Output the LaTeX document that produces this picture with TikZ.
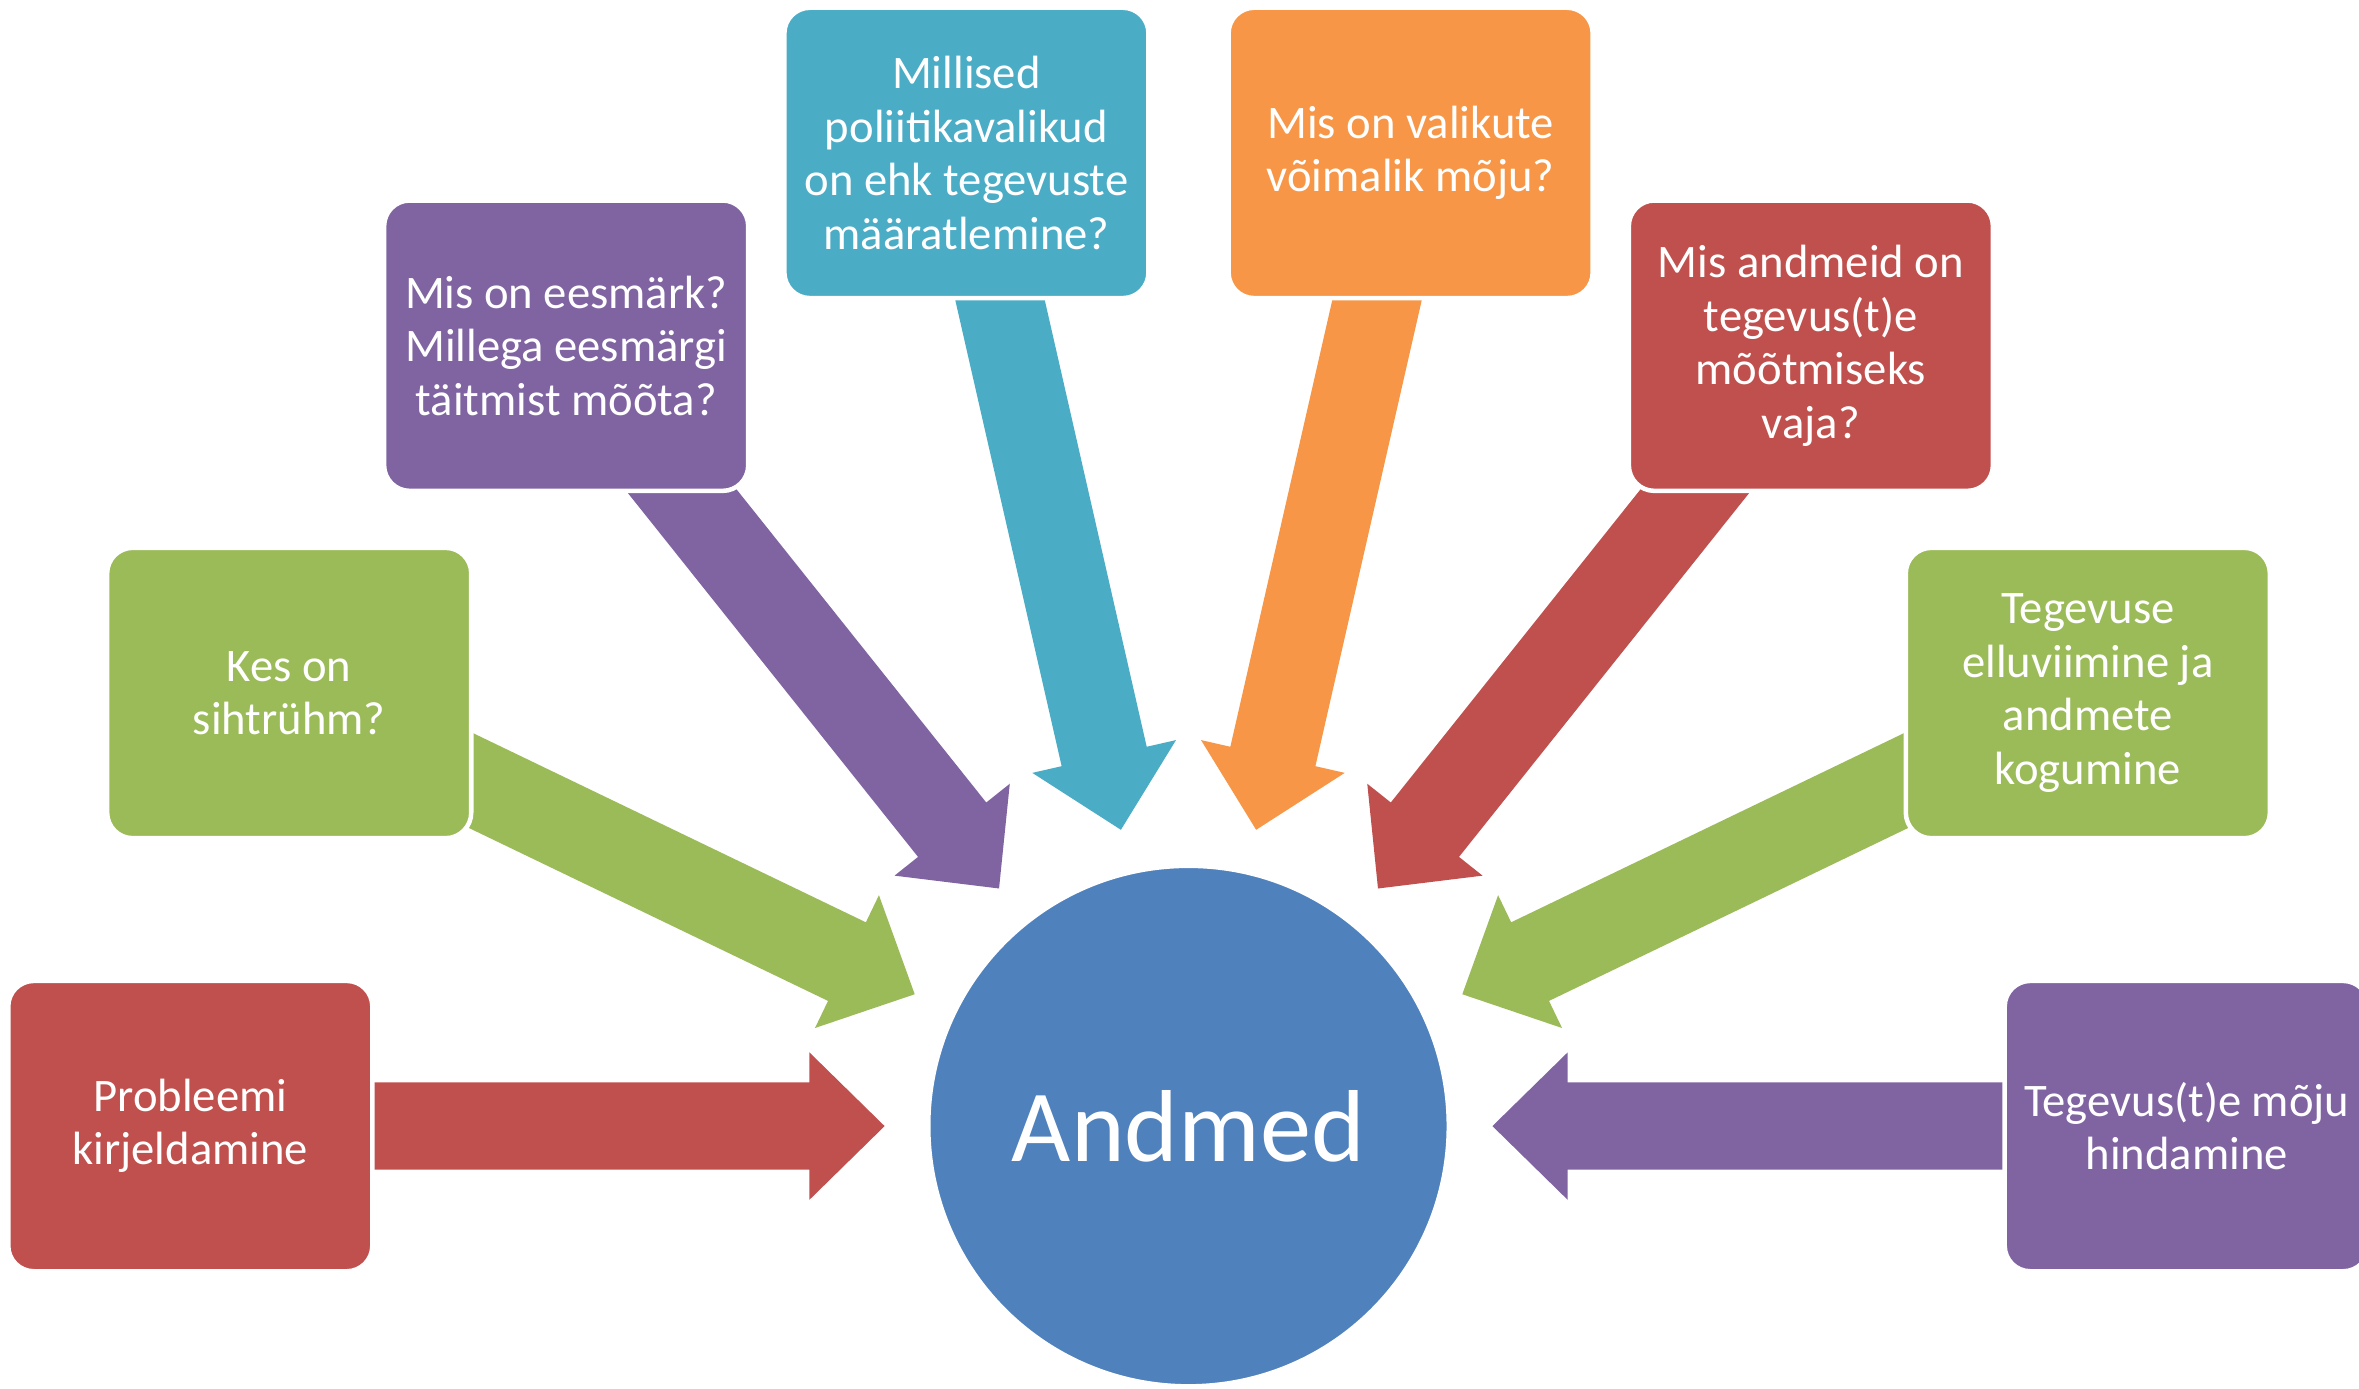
\documentclass[tikz,border=0pt]{standalone}
\usepackage{fontspec}
\setmainfont{Carlito}
\usetikzlibrary{calc}
\pgfdeclarelayer{background}
\pgfsetlayers{background,main}
\definecolor{cred}{HTML}{C0504D}
\definecolor{cgreen}{HTML}{9BBB59}
\definecolor{cpurple}{HTML}{8064A2}
\definecolor{cteal}{HTML}{4BACC6}
\definecolor{corange}{HTML}{F79646}
\definecolor{cblue}{HTML}{4F81BD}
\tikzset{
  infobox/.style={rounded corners=17pt, draw=white, line width=3pt,
    minimum width=242pt, minimum height=193pt, inner sep=0pt,
    text=white, align=center, font=\fontsize{31}{35.5}\selectfont},
  hub/.style={circle, fill=cblue, draw=white, line width=3pt,
    minimum size=346pt, inner sep=0pt, text=white,
    font=\fontsize{68}{80}\selectfont},
}
\newcommand\blockarr[2]{%
  \begin{pgfonlayer}{background}
  \coordinate (atip) at ($(hub.center)!202pt!(#2.center)$);
  \coordinate (abase) at ($(hub.center)!252pt!(#2.center)$);
  \coordinate (atail) at ($(hub.center)!600pt!(#2.center)$);
  \fill[#1] ($(atail)!29pt!90:(hub.center)$) -- ($(abase)!29pt!90:(hub.center)$)
    -- ($(abase)!49pt!90:(hub.center)$) -- (atip)
    -- ($(abase)!49pt!-90:(hub.center)$) -- ($(abase)!29pt!-90:(hub.center)$)
    -- ($(atail)!29pt!-90:(hub.center)$) -- cycle;
  \end{pgfonlayer}}
\begin{document}
\begin{tikzpicture}
\useasboundingbox (-790pt,-174.5pt) rectangle (778pt,748.5pt);
\node[hub] (hub) at (0,0) {Andmed};
\node[infobox, fill=cred]    (b0) at (180:663.5pt)      {Probleemi\\kirjeldamine};
\node[infobox, fill=cgreen]  (b1) at (154.2857:663.5pt) {Kes on\\sihtrühm?};
\node[infobox, fill=cpurple] (b2) at (128.5714:663.5pt) {Mis on eesmärk?\\Millega eesmärgi\\täitmist mõõta?};
\node[infobox, fill=cteal]   (b3) at (102.8571:663.5pt) {Millised\\poliitikavalikud\\on ehk tegevuste\\määratlemine?};
\node[infobox, fill=corange] (b4) at (77.1429:663.5pt)  {Mis on valikute\\võimalik mõju?};
\node[infobox, fill=cred]    (b5) at (51.4286:663.5pt)  {Mis andmeid on\\tegevus(t)e\\mõõtmiseks\\vaja?};
\node[infobox, fill=cgreen]  (b6) at (25.7143:663.5pt)  {Tegevuse\\elluviimine ja\\andmete\\kogumine};
\node[infobox, fill=cpurple] (b7) at (0:663.5pt)        {Tegevus(t)e mõju\\hindamine};
\blockarr{cred}{b0}
\blockarr{cgreen}{b1}
\blockarr{cpurple}{b2}
\blockarr{cteal}{b3}
\blockarr{corange}{b4}
\blockarr{cred}{b5}
\blockarr{cgreen}{b6}
\blockarr{cpurple}{b7}
\end{tikzpicture}
\end{document}
